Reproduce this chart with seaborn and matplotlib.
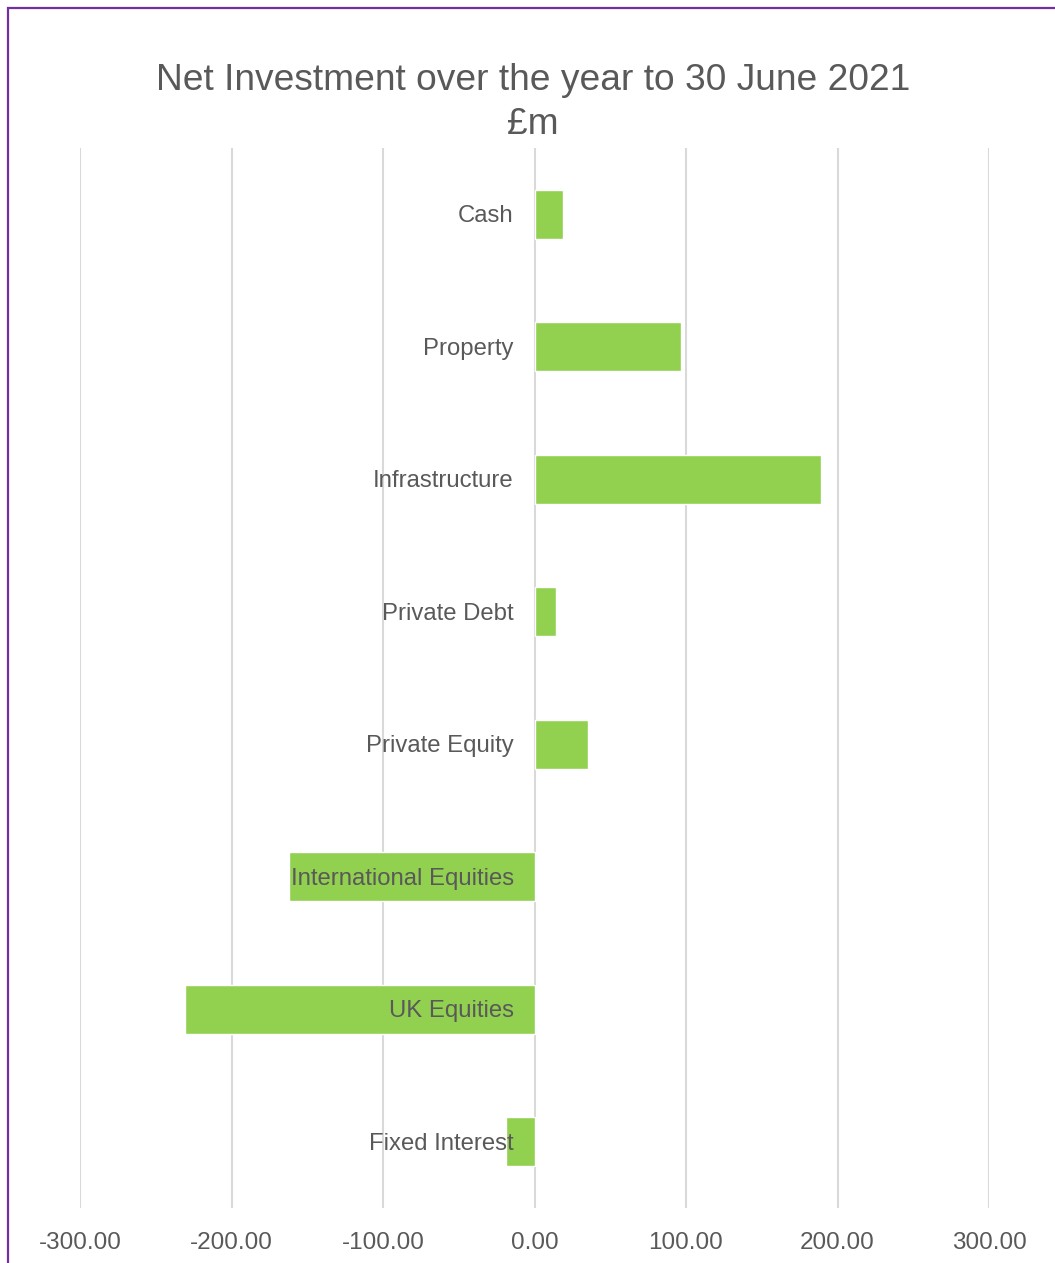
import matplotlib
matplotlib.use('Agg')
import matplotlib.pyplot as plt
import matplotlib.patches as mpatches
import seaborn as sns
import pandas as pd

# Data (£m)
categories = ['Cash', 'Property', 'Infrastructure', 'Private Debt',
              'Private Equity', 'International Equities', 'UK Equities',
              'Fixed Interest']
values = [18.5, 97.0, 189.0, 14.0, 35.0, -162.0, -231.0, -19.0]
x_ticks = [-300, -200, -100, 0, 100, 200, 300]

df = pd.DataFrame({'category': categories, 'value': values})

sns.set_theme(style='white')
plt.rcParams['font.family'] = ['Liberation Sans', 'DejaVu Sans']

text_grey = '#595959'
grid_grey = '#D9D9D9'
bar_green = '#92D050'

fig = plt.figure(figsize=(10.55, 12.63), dpi=100)
ax = fig.add_axes([80 / 1055, 1 - 1208 / 1263, (989 - 80) / 1055, (1208 - 148) / 1263])

sns.barplot(data=df, x='value', y='category', order=categories, color=bar_green,
            width=0.37, saturation=1, ax=ax, zorder=3)

ax.set_xlim(-300, 300)
ax.set_ylim(len(categories) - 0.5, -0.5)
ax.set_xticks(x_ticks)
ax.set_xticklabels([f'{t:.2f}' for t in x_ticks], color=text_grey, fontsize=17.5)
ax.tick_params(axis='x', length=0, pad=17)
ax.set_yticks([])
ax.set_xlabel('')
ax.set_ylabel('')

for t in x_ticks:
    ax.axvline(t, color=grid_grey, linewidth=1.5, zorder=1)

for s in ax.spines.values():
    s.set_visible(False)

# category labels sit just left of the zero line
for i, cat in enumerate(categories):
    ax.annotate(cat, xy=(0, i), xytext=(-15, -1.5), textcoords='offset points',
                ha='right', va='center', fontsize=17.2, color=text_grey, zorder=4)

fig.text(0.505, 1 - 81 / 1263, 'Net Investment over the year to 30 June 2021',
         ha='center', va='center', fontsize=26.7, color=text_grey)
fig.text(0.505, 1 - 125 / 1263, '£m', ha='center', va='center',
         fontsize=26.7, color=text_grey)

# purple chart border (right and bottom edges fall outside the image)
border = mpatches.Rectangle((8 / 1055, -0.1), 1.2, 1 - 8 / 1263 + 0.1,
                            transform=fig.transFigure, fill=False,
                            edgecolor='#7030A0', linewidth=1.6)
fig.patches.append(border)

fig.savefig('out.png', dpi=100)
